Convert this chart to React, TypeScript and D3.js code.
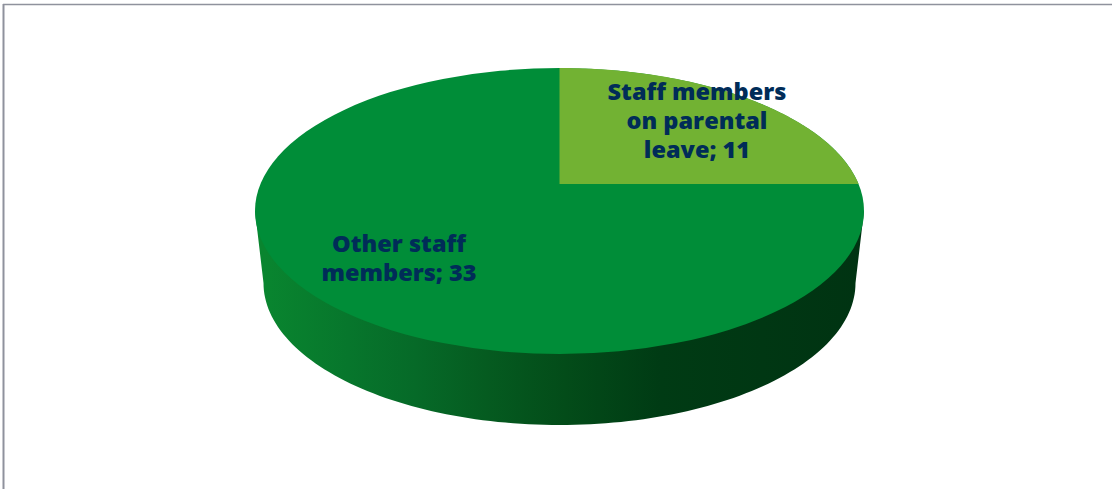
import React from "react";
import * as d3 from "d3";

const categories = ["Staff members on parental leave", "Other staff members"];
const values = [11, 33];
const sliceColors = ["#72b233", "#008d38"];
const labelLines = [
  ["Staff members", "on parental", "leave; 11"],
  ["Other staff", "members; 33"],
];
const labelCenters = [
  [697, 100],
  [399, 252],
];
const wallStops: [number, string][] = [
  [0, "#09852f"],
  [0.14, "#07762c"],
  [0.25, "#066a28"],
  [0.37, "#055b20"],
  [0.5, "#034c19"],
  [0.66, "#003b14"],
  [1, "#003312"],
];

const W = 1112, H = 489;
const cx = 559.5, cy = 211, rx = 304.5, ry = 143;
const apexY = 184;
const botCy = 283, botRx = 296, botRy = 142;

function rim(a: number): [number, number] {
  // intersect a ray from the (perspective-shifted) pie centre with the top ellipse
  const dx = Math.sin(a) * rx, dy = -Math.cos(a) * ry;
  const ox = 0, oy = apexY - cy;
  const A = (dx * dx) / (rx * rx) + (dy * dy) / (ry * ry);
  const B = 2 * ((ox * dx) / (rx * rx) + (oy * dy) / (ry * ry));
  const C = (ox * ox) / (rx * rx) + (oy * oy) / (ry * ry) - 1;
  const t = (-B + Math.sqrt(B * B - 4 * A * C)) / (2 * A);
  return [cx + ox + t * dx, cy + oy + t * dy];
}

export default function App() {
  const arcs = d3.pie<number>().sort(null)(values);
  const slice = arcs[0];
  const line = d3.line();
  const steps = d3.range(0, 121).map((i) => i / 120);
  const slicePts: [number, number][] = [
    [cx, apexY],
    ...steps.map((s) => rim(slice.startAngle + s * (slice.endAngle - slice.startAngle))),
  ];
  const wallPts: [number, number][] = [
    [cx - rx, cy],
    ...steps.map((s): [number, number] => {
      const t = Math.PI * (1 - s);
      return [cx + botRx * Math.cos(t), botCy + botRy * Math.sin(t)];
    }),
    [cx + rx, cy],
  ];
  const x0 = cx - rx, x1 = cx + rx;
  return (
    <svg width={W} height={H} style={{ position: "absolute", left: 0, top: 0 }}>
      <defs>
        <linearGradient id="wall" gradientUnits="userSpaceOnUse" x1={x0 + 10} x2={x1} y1={0} y2={0}>
          {wallStops.map(([o, c]) => (
            <stop key={o} offset={o} stopColor={c} />
          ))}
        </linearGradient>
      </defs>
      <rect width={W} height={H} fill="#fff" />
      <line x1={3.5} x2={3.5} y1={4} y2={H} stroke="#8f929d" strokeWidth={2} />
      <line x1={3} x2={W} y1={4.5} y2={4.5} stroke="#8f929d" strokeWidth={1.4} />
      <path d={line(wallPts)!} fill="url(#wall)" />
      <ellipse cx={cx} cy={cy} rx={rx} ry={ry} fill={sliceColors[1]} />
      <path d={line(slicePts)! + "Z"} fill={sliceColors[0]} />
      {categories.map((c, i) => (
        <text
          key={c}
          textAnchor="middle"
          fontFamily="'Open Sans', sans-serif"
          fontWeight={800}
          fontSize={23.5}
          fill="#002c58"
        >
          {labelLines[i].map((t, j) => (
            <tspan key={t} x={labelCenters[i][0]} y={labelCenters[i][1] + j * 29}>
              {t}
            </tspan>
          ))}
        </text>
      ))}
    </svg>
  );
}
